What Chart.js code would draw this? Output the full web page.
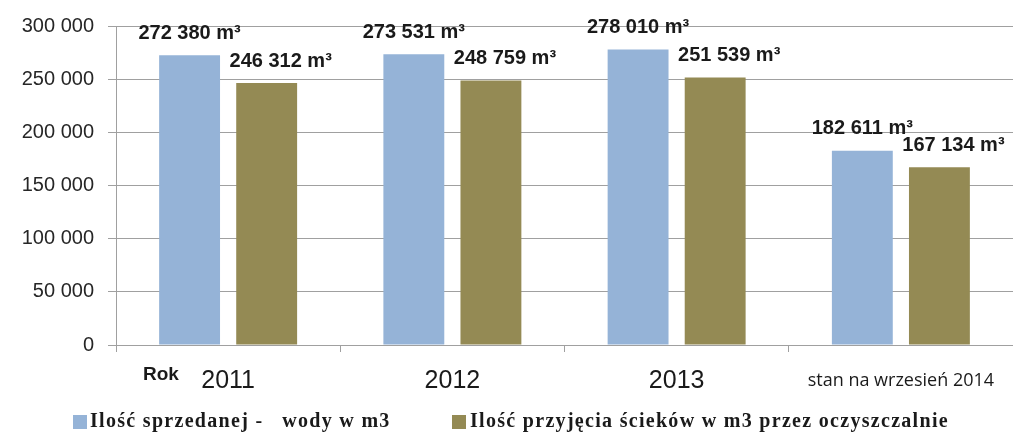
<!DOCTYPE html>
<html>
<head>
<meta charset="utf-8">
<script src="https://cdn.jsdelivr.net/npm/chart.js@4.4.1/dist/chart.umd.min.js"></script>
<style>
  html, body { margin: 0; padding: 0; background: #fff; }
  #wrap { position: relative; width: 1013px; height: 432px; overflow: hidden; }
  .leg { position: absolute; top: 409px; height: 22px; font: bold 20px "Liberation Serif", "Times New Roman", serif; letter-spacing: 1.3px; color: #1a1a1a; white-space: nowrap; line-height: 22px; }
  .sw { position: absolute; top: 415px; width: 14px; height: 14px; }
</style>
</head>
<body>
<div id="wrap">
  <canvas id="c" width="1013" height="432"></canvas>
  <div class="sw" style="left:73px;background:#95B3D7"></div>
  <div class="leg" id="l1" style="left:90px">Ilość sprzedanej -&nbsp;&nbsp; wody w m3</div>
  <div class="sw" style="left:452px;background:#948A54"></div>
  <div class="leg" id="l2" style="left:470px">Ilość przyjęcia ścieków w m3 przez oczyszczalnie</div>
</div>
<script>
const categories = ['2011', '2012', '2013', 'stan na wrzesień 2014'];
const seriesNames = ['Ilość sprzedanej -  wody w m3', 'Ilość przyjęcia ścieków w m3 przez oczyszczalnie'];
const waterSold = [272380, 273531, 278010, 182611];
const sewageReceived = [246312, 248759, 251539, 167134];
const yTicks = [0, 50000, 100000, 150000, 200000, 250000, 300000];

function fmt(v) {
  return String(v).replace(/\B(?=(\d{3})+(?!\d))/g, ' ');
}

const labelPlugin = {
  id: 'valueLabels',
  afterDatasetsDraw(chart) {
    const ctx = chart.ctx;
    ctx.save();
    ctx.font = 'bold 20px "Liberation Sans", Arial, sans-serif';
    ctx.fillStyle = '#1a1a1a';
    ctx.textAlign = 'center';
    ctx.textBaseline = 'middle';
    chart.data.datasets.forEach((ds, di) => {
      const meta = chart.getDatasetMeta(di);
      const dx = di === 0 ? 0 : 14;
      meta.data.forEach((bar, i) => {
        ctx.fillText(fmt(ds.data[i]) + ' m³', bar.x + dx, bar.y - 22);
      });
    });
    // "Rok" axis caption
    ctx.font = 'bold 19px "Liberation Sans", Arial, sans-serif';
    ctx.textAlign = 'left';
    ctx.fillText('Rok', 143, 375);
    ctx.restore();
  }
};

new Chart(document.getElementById('c'), {
  type: 'bar',
  data: {
    labels: categories,
    datasets: [
      { label: seriesNames[0], data: waterSold, backgroundColor: '#95B3D7',
        barPercentage: 0.79, categoryPercentage: 0.6875 },
      { label: seriesNames[1], data: sewageReceived, backgroundColor: '#948A54',
        barPercentage: 0.79, categoryPercentage: 0.6875 }
    ]
  },
  options: {
    responsive: false,
    devicePixelRatio: 1,
    animation: false,
    layout: { padding: { top: 26, right: 0, left: 0, bottom: 0 } },
    plugins: { legend: { display: false }, tooltip: { enabled: false } },
    scales: {
      x: {
        offset: true,
        grid: { offset: true, drawOnChartArea: false, drawTicks: true, tickLength: 7, color: '#a0a0a0' },
        border: { color: '#a0a0a0', width: 1 },
        ticks: {
          padding: 14,
          color: '#1a1a1a',
          maxRotation: 0,
          autoSkip: false,
          font: (c) => c.index === 3
            ? { family: '"Open Sans", sans-serif', size: 18, lineHeight: '30px' }
            : { family: '"Liberation Sans Narrow", "Liberation Sans", sans-serif', size: 25, lineHeight: '30px' }
        },
        afterFit(scale) { scale.height = 87; }
      },
      y: {
        min: 0,
        max: 300000,
        afterBuildTicks(scale) { scale.ticks = yTicks.map(v => ({ value: v })); },
        grid: { color: '#a0a0a0', tickLength: 8, lineWidth: 1 },
        border: { color: '#a0a0a0', width: 1 },
        ticks: {
          padding: 14,
          color: '#262626',
          font: { family: '"Liberation Sans", Arial, sans-serif', size: 20 },
          callback: (v) => fmt(v)
        },
        afterFit(scale) { scale.width = 116; }
      }
    }
  },
  plugins: [labelPlugin]
});
</script>
</body>
</html>
